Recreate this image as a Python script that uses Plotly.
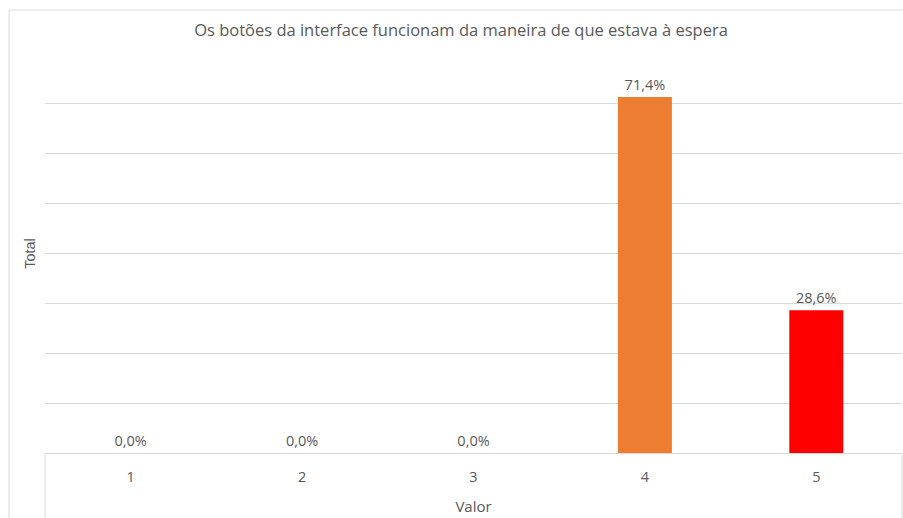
import plotly.graph_objects as go

categories = ["1", "2", "3", "4", "5"]
values = [0.0, 0.0, 0.0, 71.4, 28.6]
bar_colors = ["#4472C4", "#4472C4", "#4472C4", "#ED7D31", "#FF0000"]
title_text = "Os botões da interface funcionam da maneira de que estava à espera"

FONT = "Open Sans"
GRAY = "#595959"
GRID = "#d9d9d9"

fig = go.Figure(go.Bar(
    x=categories, y=values,
    marker=dict(color=bar_colors, line=dict(width=0)),
    texttemplate="%{y:.1f}%", textposition="outside",
    textfont=dict(family=FONT, size=14.5, color=GRAY),
    cliponaxis=False, width=0.315,
))

W, H = 903, 518
L, R, T, B = 45, 1, 54, 65
pw, ph = W - L - R, H - T - B
def px(x): return (x - L) / pw
def py(y): return (H - B - y) / ph

shapes = [
    dict(type="line", xref="paper", yref="paper", x0=px(9), x1=px(903), y0=py(10), y1=py(10), line=dict(color=GRID, width=1)),
    dict(type="line", xref="paper", yref="paper", x0=px(9), x1=px(9), y0=py(10), y1=py(520), line=dict(color=GRID, width=1)),
    dict(type="line", xref="paper", yref="paper", x0=0, x1=0, y0=0, y1=py(520), line=dict(color=GRID, width=1)),
    dict(type="line", xref="paper", yref="paper", x0=1, x1=1, y0=0, y1=py(520), line=dict(color=GRID, width=1)),
]

fig.update_layout(
    width=W, height=H,
    margin=dict(l=L, r=R, t=T, b=B),
    paper_bgcolor="white", plot_bgcolor="white",
    separators=",.",
    showlegend=False,
    title=dict(text=title_text, xref="container", x=461 / W, xanchor="center",
               yref="container", y=1 - 30 / H, yanchor="middle",
               font=dict(family=FONT, size=16.5, color=GRAY)),
    xaxis=dict(showgrid=False, showline=True, linecolor=GRID, linewidth=1,
               tickfont=dict(family=FONT, size=14.5, color=GRAY), ticks="", ticklabelstandoff=11,
               title=dict(text="Valor", font=dict(family=FONT, size=15, color=GRAY), standoff=16)),
    yaxis=dict(range=[0, 80], dtick=10, showgrid=True, gridcolor=GRID, gridwidth=1,
               showticklabels=False, zeroline=False,
               title=dict(text="Total", font=dict(family="Liberation Sans", size=14.5, color=GRAY), standoff=4)),
    shapes=shapes,
)

fig.write_html("out.html")
